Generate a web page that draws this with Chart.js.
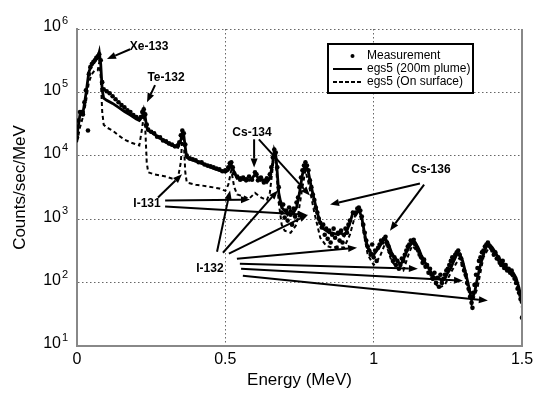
<!DOCTYPE html>
<html>
<head>
<meta charset="utf-8">
<script src="https://cdn.jsdelivr.net/npm/chart.js@4.4.0/dist/chart.umd.min.js"></script>
<style>
  html, body { margin: 0; padding: 0; background: #fff; }
  canvas { display: block; }
</style>
</head>
<body>
<canvas id="spectrum" width="533" height="399"></canvas>
<script>
// energy in MeV, counts in counts/sec/MeV
const measEnergy = [
  0, 0.005, 0.01, 0.015, 0.02, 0.025, 0.03, 0.037, 0.04, 0.045, 0.05, 0.055, 0.06, 0.065, 0.07, 0.075, 0.08, 0.085,
  0.09, 0.10, 0.11, 0.12, 0.13, 0.14, 0.15, 0.16, 0.17, 0.18, 0.19, 0.20, 0.21, 0.215, 0.22, 0.225, 0.23, 0.235, 0.24, 0.25,
  0.26, 0.27, 0.28, 0.29, 0.30, 0.31, 0.32, 0.33, 0.34,
  0.345, 0.35, 0.355, 0.36, 0.365, 0.37, 0.38, 0.39, 0.40, 0.41, 0.42, 0.43, 0.44, 0.45, 0.46, 0.47, 0.48, 0.49, 0.50, 0.51,
  0.515, 0.52, 0.525, 0.53, 0.54, 0.55, 0.56, 0.57, 0.58, 0.59, 0.60, 0.605, 0.61, 0.62, 0.63, 0.64, 0.65,
  0.655, 0.66, 0.665, 0.67, 0.675, 0.68, 0.685, 0.69, 0.695, 0.70, 0.705, 0.71, 0.715, 0.72, 0.725, 0.73, 0.735, 0.74, 0.745, 0.75,
  0.755, 0.76, 0.765, 0.77, 0.775, 0.78, 0.785, 0.79, 0.795, 0.80, 0.805, 0.81, 0.815, 0.82, 0.825, 0.83, 0.835, 0.84, 0.845, 0.85,
  0.855, 0.86, 0.865, 0.87, 0.875, 0.88, 0.885, 0.89, 0.895, 0.90,
  0.905, 0.91, 0.915, 0.92, 0.93, 0.94, 0.945, 0.95, 0.955, 0.96, 0.965, 0.97, 0.975, 0.98, 0.985, 0.99, 0.995, 1.0, 1.005, 1.01,
  1.015, 1.02, 1.025, 1.03, 1.035, 1.04, 1.045, 1.05, 1.055, 1.06, 1.065, 1.07, 1.075, 1.08, 1.085, 1.09, 1.095, 1.10, 1.105, 1.11,
  1.115, 1.12, 1.125, 1.13, 1.135, 1.14, 1.145, 1.15, 1.155, 1.16, 1.165, 1.17, 1.175, 1.18, 1.185, 1.19, 1.195, 1.20,
  1.205, 1.21, 1.215, 1.22, 1.225, 1.23, 1.235, 1.24, 1.245, 1.25, 1.255, 1.26, 1.265, 1.27, 1.275, 1.28, 1.285, 1.29, 1.295, 1.30,
  1.305, 1.31, 1.315, 1.32, 1.325, 1.33, 1.333, 1.335, 1.34, 1.345, 1.35, 1.355, 1.36, 1.365, 1.37, 1.375, 1.38, 1.385, 1.39, 1.395,
  1.40, 1.405, 1.41, 1.415, 1.42, 1.425, 1.43, 1.435, 1.44, 1.445, 1.45, 1.455, 1.46, 1.465, 1.47, 1.475, 1.48, 1.485, 1.49, 1.495, 1.50
];
const measCounts = [
  19500, 36000, 49000, 49000, 45000, 70000, 108000, 25000, 194000, 250000, 280000, 300000, 320000, 350000, 370000, 400000, 320000, 145000,
  112000, 104000, 97000, 87000, 78000, 70000, 63000, 58000, 52000, 49000, 44000, 41000, 38000, 41000, 49000, 54000, 45000, 31000, 26000, 24000,
  22600, 20000, 19500, 17500, 16900, 15700, 15100, 14100, 14600,
  16300, 21000, 25000, 22600, 15100, 10100, 9100, 8800, 8500, 7900, 7900, 7300, 7000, 6800, 6600, 6300, 6100, 5700, 5900, 6600,
  7600, 7900, 6600, 5300, 4700, 4200, 4550, 4100, 4700, 4200, 5500, 5100, 4100, 4550, 3800, 4400, 5100,
  6600, 9400, 12600, 11300, 6600, 3200, 1830, 1270, 1700, 1060, 1370, 950, 1530, 1180, 820, 1470, 1100, 1830, 2200, 3200,
  4550, 5900, 7000, 7900, 7000, 5900, 4100, 3200, 2450, 2000, 1530, 1270, 1020, 880, 740, 820, 570, 710, 490, 660,
  430, 570, 710, 510, 355, 610, 460, 660, 430, 570,
  710, 610, 820, 950, 1270, 1270, 1470, 1530, 1370, 1100, 820, 610, 460, 370, 320, 275, 400, 250, 320, 220,
  355, 400, 460, 430, 490, 530, 430, 370, 300, 275, 220, 250, 190, 220, 165, 190, 240, 220, 275, 320,
  370, 400, 460, 430, 475, 400, 355, 320, 275, 250, 205, 230, 178, 190, 143, 165, 133, 115,
  143, 99, 119, 86, 133, 99, 115, 133, 155, 165, 190, 220, 250, 240, 275, 300, 320, 275, 240, 190,
  155, 133, 99, 80, 60, 48, 40, 69, 92, 133, 170, 220, 250, 300, 320, 370, 400, 430, 380, 355,
  320, 275, 300, 240, 250, 205, 190, 220, 170, 190, 155, 165, 143, 155, 133, 115, 99, 80, 69, 55, 28
];

const plumeEnergy = [
  0, 0.01, 0.02, 0.03, 0.04, 0.05, 0.06, 0.07, 0.075, 0.08, 0.085, 0.09, 0.10, 0.12, 0.14, 0.16, 0.18, 0.20, 0.21, 0.22,
  0.225, 0.23, 0.235, 0.24, 0.26, 0.28, 0.30, 0.32, 0.34, 0.35, 0.355, 0.36, 0.365, 0.37, 0.38, 0.40, 0.42, 0.44, 0.46, 0.48,
  0.50, 0.51, 0.52, 0.53, 0.54, 0.55, 0.56, 0.57, 0.58, 0.59, 0.60, 0.61, 0.62, 0.63, 0.64, 0.65, 0.66, 0.665, 0.67, 0.675,
  0.68, 0.69, 0.70, 0.71, 0.72, 0.73, 0.74, 0.75, 0.76, 0.77, 0.78, 0.79, 0.80, 0.81, 0.82, 0.83, 0.84, 0.85, 0.86, 0.87,
  0.88, 0.89, 0.90, 0.91, 0.92, 0.93, 0.94, 0.95, 0.96, 0.97, 0.98, 0.99, 1.00, 1.01, 1.02, 1.03, 1.04, 1.05, 1.06, 1.07,
  1.08, 1.09, 1.10, 1.11, 1.12, 1.13, 1.14, 1.15, 1.16, 1.17, 1.18, 1.19, 1.20, 1.21, 1.22, 1.23, 1.24, 1.25, 1.26, 1.27,
  1.28, 1.29, 1.30, 1.31, 1.32, 1.33, 1.34, 1.35, 1.36, 1.37, 1.38, 1.39, 1.40, 1.41, 1.42, 1.43, 1.44, 1.45, 1.46, 1.47,
  1.48, 1.49, 1.50
];
const plumeCounts = [
  21000, 45000, 47000, 94000, 210000, 280000, 320000, 350000, 430000, 280000, 108000, 81000, 75000, 67000, 58000, 50000, 44000, 38000, 36000, 42000,
  52000, 41000, 28000, 25000, 22000, 19000, 16300, 14600, 13600, 17500, 23000, 21000, 13600, 9400, 8800, 8200, 7600, 7000, 6300, 5900,
  5500, 5900, 7300, 5500, 4400, 4550, 4200, 4400, 4100, 4400, 5100, 4550, 4100, 4200, 3800, 4400, 7900, 12200, 10500, 5500,
  2600, 1530, 1370, 1180, 1370, 1270, 1530, 2600, 5100, 7300, 5500, 3200, 2000, 1270, 880, 710, 660, 610, 610, 590,
  570, 610, 550, 660, 880, 1270, 1180, 1420, 1060, 570, 355, 300, 275, 320, 370, 460, 490, 400, 300, 250,
  220, 190, 230, 300, 370, 430, 430, 355, 275, 220, 185, 155, 128, 115, 119, 107, 115, 143, 170, 220,
  275, 285, 220, 143, 89, 53, 69, 119, 190, 275, 370, 400, 355, 300, 250, 220, 190, 170, 155, 143,
  119, 83, 48
];

const surfaceEnergy = [
  0, 0.01, 0.02, 0.03, 0.04, 0.05, 0.06, 0.07, 0.075, 0.08, 0.085, 0.09, 0.10, 0.12, 0.14, 0.16, 0.18, 0.20, 0.21, 0.22,
  0.225, 0.23, 0.235, 0.24, 0.26, 0.28, 0.30, 0.32, 0.34, 0.35, 0.355, 0.36, 0.365, 0.37, 0.40, 0.44, 0.48, 0.50, 0.51, 0.52,
  0.53, 0.54, 0.56, 0.58, 0.60, 0.62, 0.64, 0.65, 0.66, 0.665, 0.67, 0.68, 0.69, 0.70, 0.72, 0.74, 0.76, 0.77, 0.78, 0.80,
  0.82, 0.84, 0.86, 0.88, 0.90, 0.92, 0.94, 0.95, 0.96, 0.98, 1.00, 1.02, 1.04, 1.06, 1.08, 1.10, 1.12, 1.13, 1.15, 1.18,
  1.20, 1.22, 1.24, 1.26, 1.29, 1.31, 1.33, 1.35, 1.37, 1.39, 1.42, 1.45, 1.48, 1.50
];
const surfaceCounts = [
  16300, 28000, 41000, 70000, 145000, 194000, 224000, 224000, 300000, 174000, 49000, 31000, 28000, 25000, 21000, 18000, 16300, 15100, 14600, 28000,
  45000, 28000, 7900, 5500, 5100, 4900, 4700, 4400, 4400, 7900, 19500, 16300, 5500, 3800, 3500, 3300, 3050, 2800, 3500, 5900,
  3200, 2450, 2300, 2100, 2600, 2200, 2000, 2600, 6600, 11300, 7900, 1830, 820, 660, 610, 820, 3200, 5900, 3800, 1270,
  510, 380, 355, 370, 355, 570, 1270, 1370, 880, 275, 190, 250, 430, 220, 170, 155, 300, 380, 300, 155,
  107, 83, 92, 143, 250, 119, 45, 83, 250, 370, 220, 155, 107, 40
];

const xTicks = [0, 0.5, 1, 1.5];
const yTicks = [10, 100, 1000, 10000, 100000, 1000000];
const legendNames = ['Measurement', 'egs5 (200m plume)', 'egs5 (On surface)'];

// nuclide labels and their arrows, in data units (energy, counts)
const labelNames = ['Xe-133', 'Te-132', 'Cs-134', 'Cs-136', 'I-131', 'I-132'];
const labelEnergy = [0.243, 0.30, 0.59, 1.193, 0.236, 0.448];
const labelCounts = [5.2e5, 1.68e5, 2.35e4, 6.1e3, 1.77e3, 165];
const arrowFromEnergy = [0.179, 0.263, 0.597, 0.613, 1.156, 1.170, 0.273, 0.297, 0.297, 0.472, 0.492, 0.512, 0.539, 0.549, 0.553, 0.559];
const arrowFromCounts = [4.8e5, 1.3e5, 1.82e4, 1.82e4, 3.66e3, 3.5e3, 2.2e3, 1.97e3, 1.58e3, 307, 296, 286, 238, 198, 165, 128];
const arrowToEnergy = [0.101, 0.236, 0.597, 0.785, 0.853, 1.055, 0.354, 0.583, 0.775, 0.516, 0.677, 0.779, 0.944, 1.149, 1.301, 1.385];
const arrowToCounts = [3.35e5, 7.0e4, 6.55e3, 2.36e3, 1.70e3, 660, 5.1e3, 2.04e3, 1.18e3, 2.84e3, 2.84e3, 1.18e3, 356, 165, 107, 52];

const FONT = '"Liberation Sans", Arial, Helvetica, sans-serif';

const toPoints = (xs, ys) => xs.map((x, i) => ({ x: x, y: ys[i] }));

const drawArrow = (ctx, x1, y1, x2, y2) => {
  const ang = Math.atan2(y2 - y1, x2 - x1);
  const head = 9, half = 3.5;
  const bx = x2 - head * Math.cos(ang);
  const by = y2 - head * Math.sin(ang);
  ctx.beginPath();
  ctx.moveTo(x1, y1);
  ctx.lineTo(bx, by);
  ctx.stroke();
  ctx.beginPath();
  ctx.moveTo(x2, y2);
  ctx.lineTo(bx + half * Math.sin(ang), by - half * Math.cos(ang));
  ctx.lineTo(bx - half * Math.sin(ang), by + half * Math.cos(ang));
  ctx.closePath();
  ctx.fill();
};

const whiteBackground = {
  id: 'whiteBackground',
  beforeDraw(chart) {
    const ctx = chart.ctx;
    ctx.save();
    ctx.fillStyle = '#fff';
    ctx.fillRect(0, 0, chart.width, chart.height);
    ctx.restore();
  },
};

// "10" with a raised exponent, matlab style
const powerLabels = {
  id: 'powerLabels',
  afterDraw(chart) {
    const { ctx, scales: { y } } = chart;
    ctx.save();
    ctx.fillStyle = '#000';
    ctx.textBaseline = 'middle';
    yTicks.forEach((v) => {
      const py = y.getPixelForValue(v);
      const right = y.right - 16;
      ctx.font = '16px ' + FONT;
      ctx.textAlign = 'right';
      ctx.fillText('10', right, py - 2);
      ctx.font = '11px ' + FONT;
      ctx.textAlign = 'left';
      ctx.fillText(String(Math.round(Math.log10(v))), right + 1, py - 8);
    });
    ctx.restore();
  },
};

const annotations = {
  id: 'annotations',
  afterDatasetsDraw(chart) {
    const { ctx, scales: { x, y } } = chart;
    ctx.save();
    ctx.strokeStyle = '#000';
    ctx.fillStyle = '#000';
    ctx.lineWidth = 2;
    for (let i = 0; i < arrowFromEnergy.length; i++) {
      drawArrow(ctx,
        x.getPixelForValue(arrowFromEnergy[i]), y.getPixelForValue(arrowFromCounts[i]),
        x.getPixelForValue(arrowToEnergy[i]), y.getPixelForValue(arrowToCounts[i]));
    }
    ctx.font = 'bold 12px ' + FONT;
    ctx.textAlign = 'center';
    ctx.textBaseline = 'middle';
    labelNames.forEach((name, i) => {
      ctx.fillText(name, x.getPixelForValue(labelEnergy[i]), y.getPixelForValue(labelCounts[i]));
    });
    ctx.restore();
  },
};

const frameAndLegend = {
  id: 'frameAndLegend',
  afterDraw(chart) {
    const { ctx, chartArea: a } = chart;
    ctx.save();
    // solid right edge of the axes box
    ctx.strokeStyle = '#888';
    ctx.lineWidth = 2;
    ctx.beginPath();
    ctx.moveTo(a.right, a.top);
    ctx.lineTo(a.right, a.bottom);
    ctx.stroke();

    // legend box
    const bx = a.left + 251, by = a.top + 15, bw = 145, bh = 49;
    ctx.fillStyle = '#fff';
    ctx.fillRect(bx, by, bw, bh);
    ctx.strokeStyle = '#000';
    ctx.lineWidth = 2;
    ctx.strokeRect(bx, by, bw, bh);
    const rows = [by + 12, by + 25, by + 38];
    const sx1 = bx + 5, sx2 = bx + 34;
    ctx.fillStyle = '#000';
    ctx.beginPath();
    ctx.arc((sx1 + sx2) / 2 + 5, rows[0], 2, 0, Math.PI * 2);
    ctx.fill();
    ctx.lineWidth = 2;
    ctx.beginPath();
    ctx.moveTo(sx1, rows[1]);
    ctx.lineTo(sx2, rows[1]);
    ctx.stroke();
    ctx.setLineDash([4, 2]);
    ctx.beginPath();
    ctx.moveTo(sx1, rows[2]);
    ctx.lineTo(sx2, rows[2]);
    ctx.stroke();
    ctx.setLineDash([]);
    ctx.font = '12px ' + FONT;
    ctx.textAlign = 'left';
    ctx.textBaseline = 'middle';
    legendNames.forEach((name, i) => ctx.fillText(name, bx + 39, rows[i]));
    ctx.restore();
  },
};

new Chart(document.getElementById('spectrum'), {
  type: 'scatter',
  data: {
    datasets: [
      {
        label: legendNames[2],
        data: toPoints(surfaceEnergy, surfaceCounts),
        showLine: true,
        borderColor: '#000',
        borderWidth: 2,
        borderDash: [4, 3],
        pointRadius: 0,
        tension: 0,
      },
      {
        label: legendNames[1],
        data: toPoints(plumeEnergy, plumeCounts),
        showLine: true,
        borderColor: '#000',
        borderWidth: 2.8,
        pointRadius: 0,
        tension: 0,
      },
      {
        label: legendNames[0],
        data: toPoints(measEnergy, measCounts),
        showLine: false,
        pointRadius: 2.3,
        pointBackgroundColor: '#000',
        pointBorderWidth: 0,
      },
    ],
  },
  options: {
    responsive: false,
    animation: false,
    devicePixelRatio: 1,
    layout: { padding: { top: 29, right: 11, left: 0, bottom: 0 } },
    plugins: {
      legend: { display: false },
      tooltip: { enabled: false },
    },
    scales: {
      x: {
        type: 'linear',
        min: 0,
        max: 1.5,
        afterBuildTicks: (scale) => { scale.ticks = xTicks.map((v) => ({ value: v })); },
        afterFit: (scale) => { scale.height = 53; scale.paddingRight = 0; scale.paddingLeft = 0; },
        ticks: {
          padding: 4,
          color: '#000',
          font: { family: FONT, size: 16 },
          callback: (v) => String(v),
        },
        grid: { color: '#666', lineWidth: 1, drawTicks: false },
        border: { color: '#888', width: 2, dash: [1.5, 2.5] },
        title: {
          display: true,
          text: 'Energy (MeV)',
          color: '#000',
          font: { family: FONT, size: 17 },
          padding: { top: 0, bottom: 8 },
        },
      },
      y: {
        type: 'logarithmic',
        min: 10,
        max: 1000000,
        afterBuildTicks: (scale) => { scale.ticks = yTicks.map((v) => ({ value: v })); },
        afterFit: (scale) => { scale.width = 77; },
        ticks: { display: false },
        grid: { color: '#666', lineWidth: 1, drawTicks: false },
        border: { color: '#888', width: 2, dash: [1.5, 2.5] },
        title: {
          display: true,
          text: 'Counts/sec/MeV',
          color: '#000',
          font: { family: FONT, size: 17 },
          padding: { top: 10, bottom: 0 },
        },
      },
    },
  },
  plugins: [whiteBackground, annotations, frameAndLegend, powerLabels],
});
</script>
</body>
</html>
